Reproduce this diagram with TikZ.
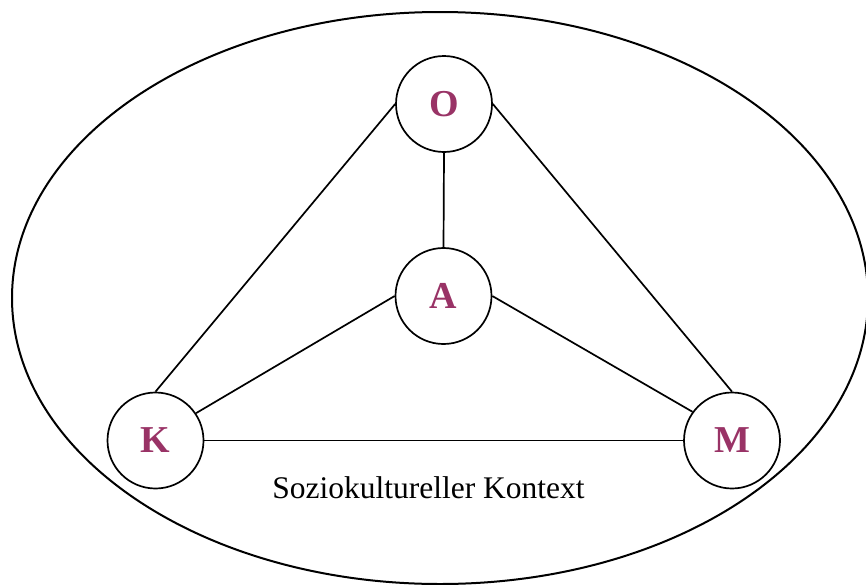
\documentclass[tikz,border=0pt]{standalone}
\usepackage{fontspec}
\setmainfont{Liberation Serif}
\definecolor{plum}{HTML}{993366}
\begin{document}
\begin{tikzpicture}[x=1pt, y=-1pt,
  role/.style={circle, draw, line width=1.7pt, minimum size=96pt, inner sep=0pt,
    font=\fontsize{38}{38}\selectfont\bfseries, text=plum},
  link/.style={line width=1.7pt}]
\useasboundingbox (0,0) rectangle (866,584);
\clip (0,0) rectangle (866,584);
% surrounding context
\draw[line width=2pt] (440,298) ellipse [x radius=428, y radius=286];
% the four poles
\node[role] (O) at (444,104) {O};
\node[role] (A) at (443.5,296) {A};
\node[role] (K) at (155.5,440.5) {K};
\node[role] (M) at (732,440.5) {M};
% connections
\draw[link] (O.west) -- (K.north);
\draw[link] (O.east) -- (M.north);
\draw[link] (O.south) -- (A.north);
\draw[link] (A.west) -- (K.34);
\draw[link] (A.east) -- (M.144);
\draw[link] (K.east) -- (M.west);
\node[anchor=base, font=\fontsize{31.5}{31.5}\selectfont] (ctx) at (428.5,498) {Soziokultureller Kontext};
\end{tikzpicture}
\end{document}
